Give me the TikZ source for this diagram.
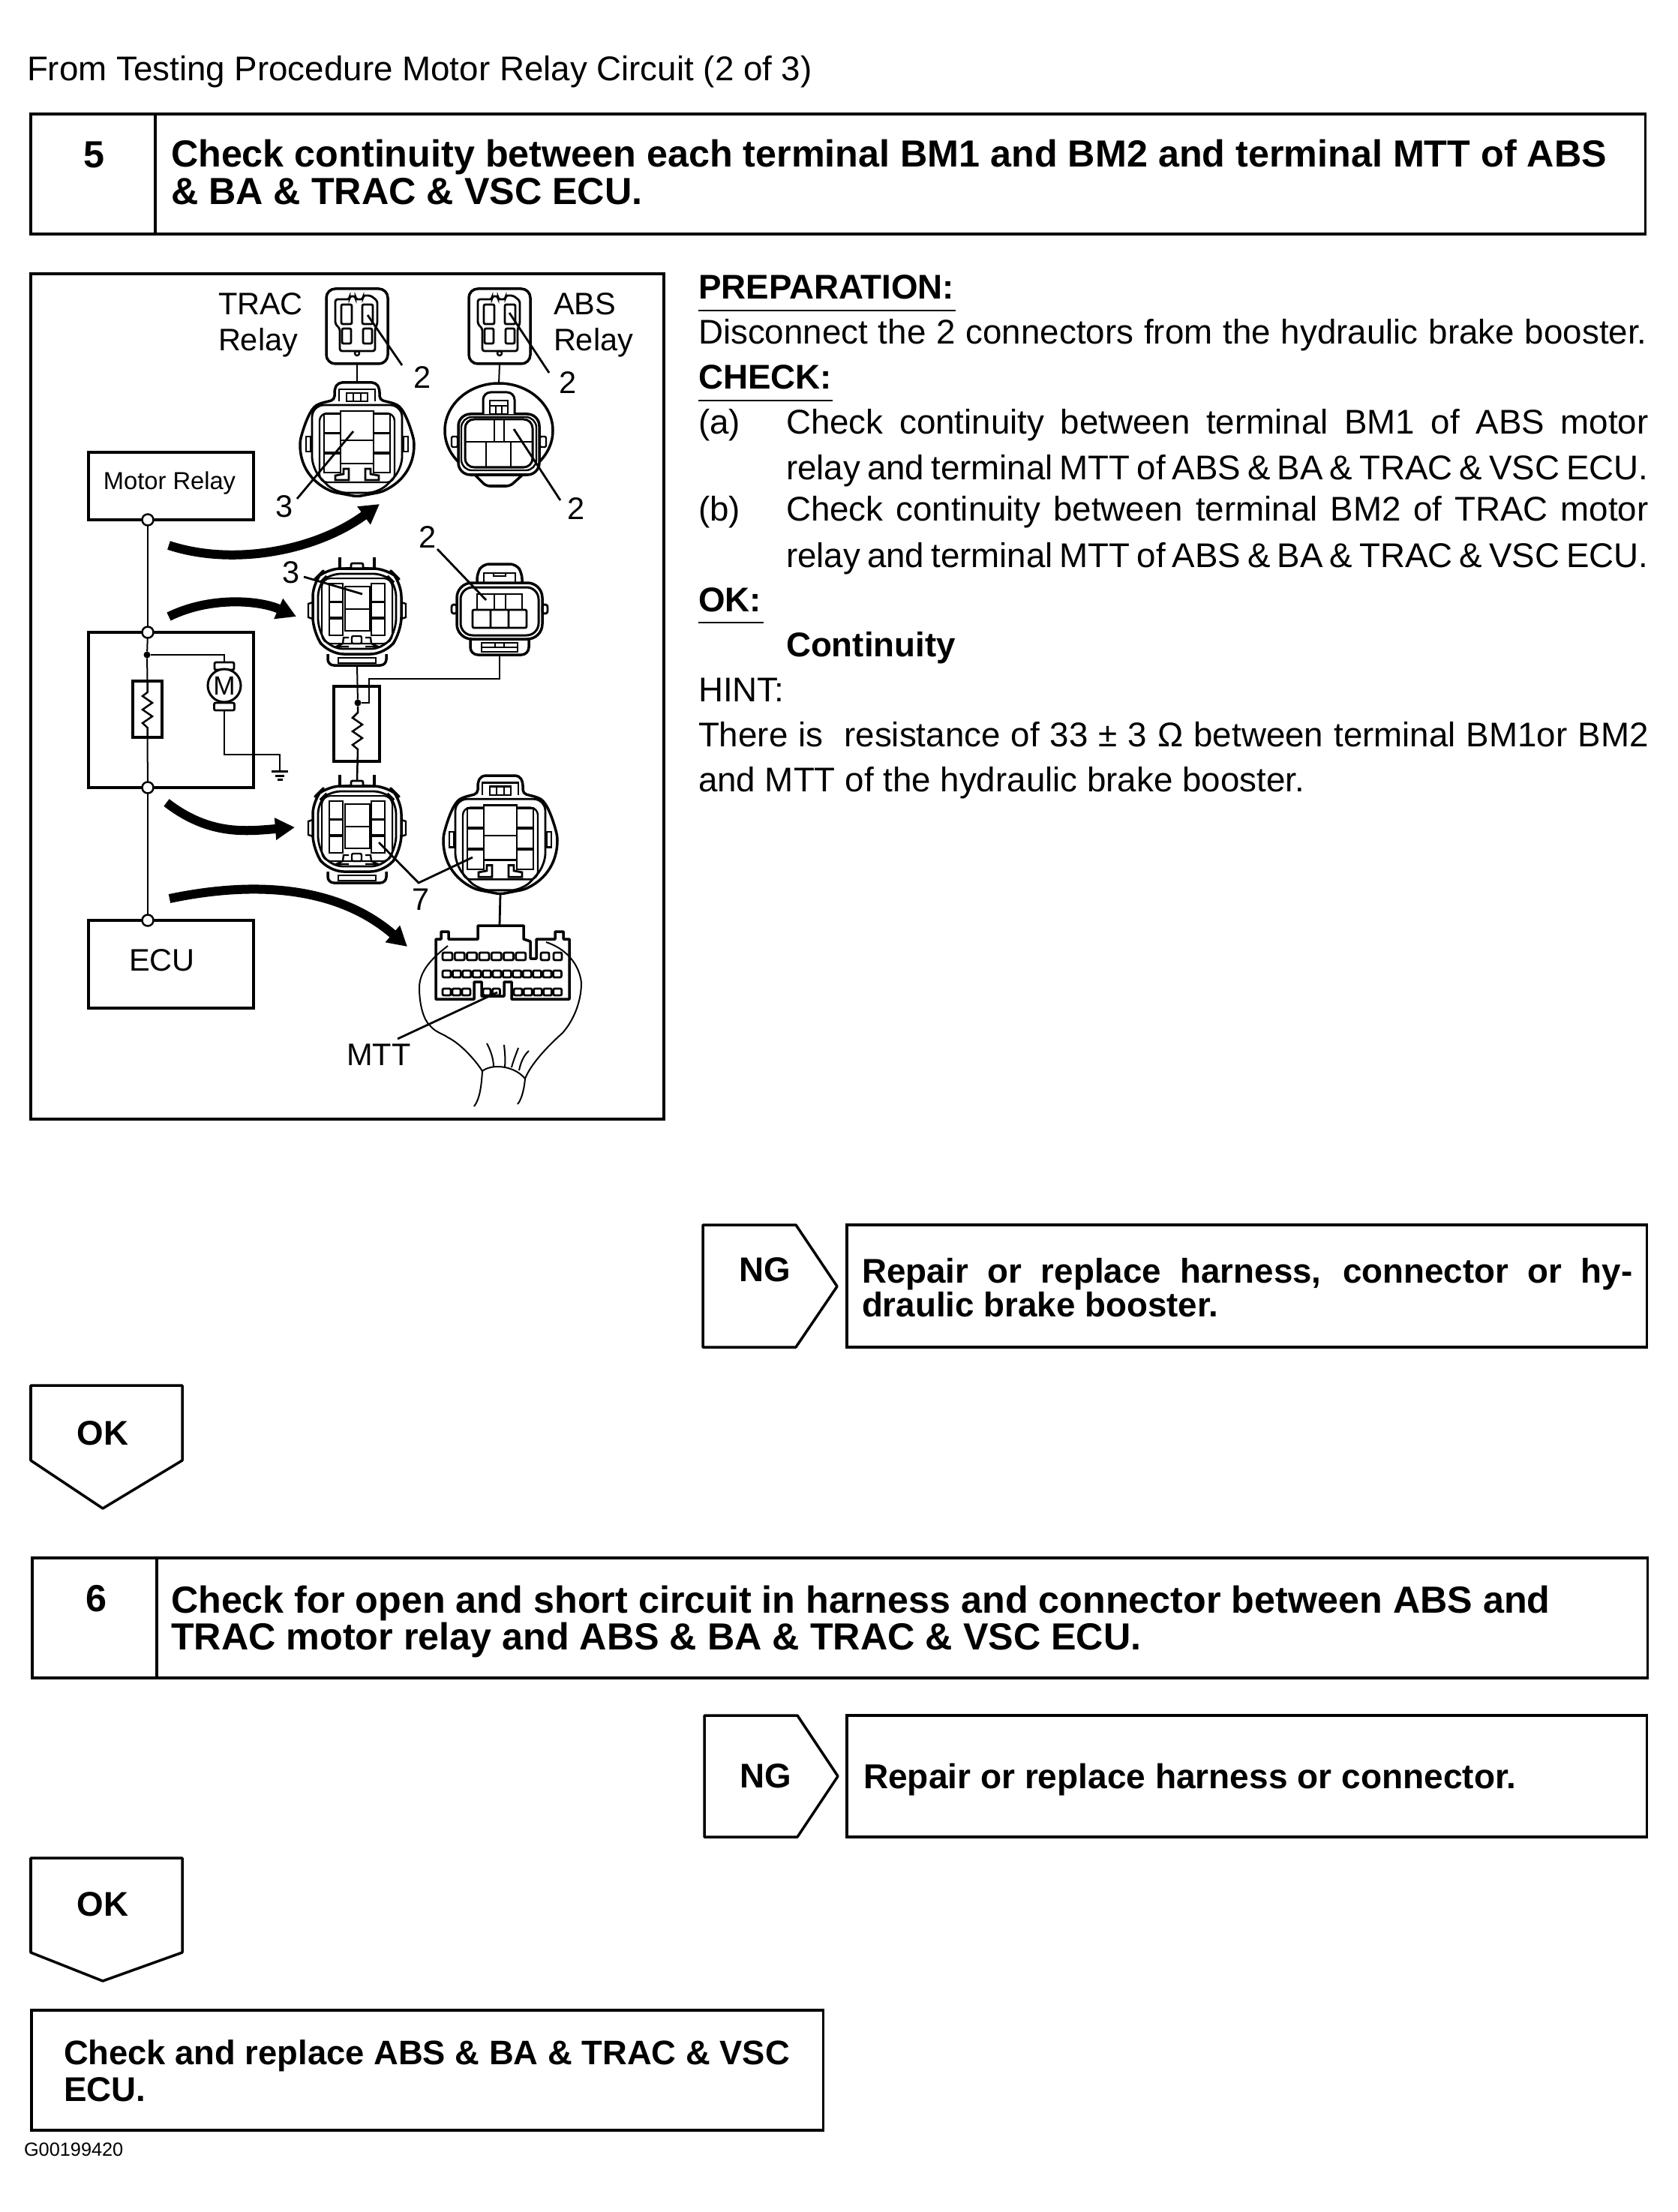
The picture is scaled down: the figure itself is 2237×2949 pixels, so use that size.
\documentclass[tikz,border=0pt]{standalone}
\usepackage{fontspec}
\setmainfont{Liberation Sans}
\usepackage{tikz}
\usetikzlibrary{arrows.meta,positioning}
\newcommand{\bodyfont}{\fontsize{13}{15}\selectfont}
\newcommand{\headfont}{\fontsize{14.3}{16}\selectfont\bfseries}
\newcommand{\flowfont}{\fontsize{13}{15}\selectfont\bfseries}
\newcommand{\partfont}{\fontsize{11.8}{13}\selectfont}
\newcommand{\spread}[2]{\makebox[#1][s]{\spaceskip=0.278em plus 1em minus 0.25em #2}}

\begin{document}
\begin{tikzpicture}[
  x=0.01cm, y=-0.01cm,
  every node/.style={inner sep=0pt, outer sep=0pt},
  frameline/.style={draw=black, line width=0.035cm},
  flowbox/.style={frameline, anchor=north west},
  body/.style={anchor=base west, font=\bodyfont},
  head/.style={anchor=base west, font=\headfont},
  flowtext/.style={anchor=base west, font=\flowfont},
  under/.style={line width=0.025cm},
  wire/.style={line width=0.02cm},
  leader/.style={line width=0.028cm},
  cell/.style={line width=0.024cm},
  shell/.style={line width=0.035cm, line join=round},
  junction/.style={circle, draw, fill=white, line width=0.025cm, minimum size=0.15cm},
  circbox/.style={frameline},
  resbox/.style={draw, line width=0.035cm},
  partno/.style={font=\partfont},
  bigarrow/.style={-{Triangle[length=0.26cm,width=0.28cm]}, line width=0.12cm},
  relayplug/.pic={
    \draw[shell, rounded corners=0.12cm] (-41,0) rectangle (41,100);
    \draw[cell, line width=0.028cm, rounded corners=0.03cm]
      (-29,14) -- (-10,14) -- (-10,10) -- (-2,10) -- (-2,14) -- (8,14) -- (8,9) -- (18,9) -- (27,16)
      -- (27,47) -- (24,53) -- (24,83) -- (-23,83) -- (-23,53) -- (-29,47) -- cycle;
    \foreach \cellx in {-21,7}{
      \draw[cell, line width=0.028cm, rounded corners=0.02cm] (\cellx,21) rectangle ++(14,26);
      \draw[cell, line width=0.028cm, rounded corners=0.02cm] (\cellx+1,53) rectangle ++(12,20);
    }
    \draw[cell] (0,86) circle (3);
    \coordinate (-bot) at (0,100);
  },
  fembig/.pic={
    \draw[shell, rounded corners=0.05cm]
      (-30,8) -- (-25,0) -- (25,0) -- (30,8) -- (30,23) -- (50,28)
      .. controls (62,35) and (70,55) .. (76,78)
      .. controls (76,110) and (62,132) .. (32,146) -- (0,152) -- (-32,146)
      .. controls (-62,132) and (-76,110) .. (-76,78)
      .. controls (-70,55) and (-62,35) .. (-50,28) -- (-30,23) -- cycle;
    \draw[cell, line width=0.028cm, rounded corners=0.16cm]
      (-60,30) -- (60,30) -- (60,115) -- (30,147) -- (-30,147) -- (-60,115) -- cycle;
    \draw[cell, rounded corners=0.1cm] (-50,41) rectangle (50,133);
    \draw[cell] (-24,25) -- (-24,9) -- (24,9) -- (24,25) (-14,14) rectangle (14,25) (-5,14) -- (-5,25) (5,14) -- (5,25);
    \draw[cell, line width=0.028cm, fill=white] (-22,38) rectangle (22,108) (-22,77) -- (22,77);
    \foreach \sx in {-1,1}{
      \begin{scope}[xscale=\sx]
        \draw[cell, fill=white] (22,42) rectangle (44,67) (22,68) rectangle (44,93) (22,95) rectangle (44,120);
        \draw[cell, line width=0.028cm, fill=white] (11,115) -- (18,115) -- (18,122) -- (29,124) -- (29,130) -- (11,130) -- cycle;
        \draw[cell] (62,72) rectangle (68,92);
      \end{scope}
    }
    \coordinate (-top) at (0,0);
    \coordinate (-bot) at (0,152);
  },
  femmid/.pic={
    \draw[shell] (-23,0) -- (-23,15) (23,0) -- (23,15);
    \draw[cell, line width=0.028cm, rounded corners=0.02cm] (-8,14) -- (-8,8) -- (8,8) -- (8,14);
    \draw[cell] (-23,15) -- (-8,14) (23,15) -- (8,14);
    \draw[shell, rounded corners=0.08cm]
      (-39,129) -- (-39,144) -- (39,144) -- (39,129);
    \draw[shell, rounded corners=0.2cm]
      (-42,15) -- (42,15) -- (59,32) -- (59,100) -- (38,129) -- (-38,129) -- (-59,100) -- (-59,32) -- cycle;
    \draw[cell, line width=0.028cm, rounded corners=0.16cm]
      (-38,22) -- (38,22) -- (52,36) -- (52,98) -- (35,122) -- (-35,122) -- (-52,98) -- (-52,36) -- cycle;
    \draw[cell, line width=0.02cm, rounded corners=0.12cm] (-47,28) rectangle (47,115);
    \draw[cell, line width=0.028cm, fill=white] (-16,39) rectangle (17,98) (-16,69) -- (17,69);
    \draw[cell, rounded corners=0.02cm, fill=white] (-7,105) rectangle (6,115);
    \draw[cell] (-25,134) rectangle (25,141) (-24,122) -- (24,122);
    \foreach \sx in {-1,1}{
      \begin{scope}[xscale=\sx]
        \draw[cell, line width=0.028cm, fill=white] (19,35) rectangle (37,59) (19,60) rectangle (37,80) (19,82) rectangle (37,104);
        \draw[cell] (11,107) -- (18,107) -- (19,115) -- (28,119) -- (11,119);
        \draw[cell] (59,60) -- (65,62) -- (65,80) -- (59,82);
      \end{scope}
    }
    \coordinate (-top) at (0,8);
    \coordinate (-bot) at (0,144);
  },
  absbig/.pic={
    \draw[shell] (0,62) ellipse (72 and 63);
    \draw[shell, fill=white, rounded corners=0.05cm] (-35,118) -- (-17,136) -- (15,136) -- (35,118);
    \draw[shell, fill=white, rounded corners=0.16cm] (-54,40) rectangle (54,121);
    \draw[cell, rounded corners=0.14cm] (-50,44) rectangle (50,115);
    \draw[cell, line width=0.03cm, rounded corners=0.12cm] (-45,47) rectangle (45,111);
    \draw[cell, line width=0.03cm, fill=white, rounded corners=0.1cm] (-21,40) -- (-21,11) -- (21,11) -- (21,40);
    \draw[cell] (-12,22) rectangle (12,40) (-4,29) -- (-4,40) (4,29) -- (4,40) (-12,29) -- (12,29);
    \draw[cell, line width=0.028cm] (-45,77) -- (45,77) (-6,47) -- (-6,77) (7,47) -- (7,77) (-17,77) -- (-17,111) (16,77) -- (16,111);
    \foreach \sx in {-1,1}{
      \draw[cell, xscale=\sx, rounded corners=0.015cm] (55,70) rectangle (63,84);
    }
    \coordinate (-top) at (0,0);
  },
  absmid/.pic={
    \draw[shell, rounded corners=0.08cm] (-30,25) -- (-30,12) -- (-22,0) -- (22,0) -- (30,12) -- (30,25);
    \draw[cell] (-21,25) -- (-21,12) -- (21,12) -- (21,25) (-8,12) -- (-8,16) -- (8,16) -- (8,12);
    \draw[shell, rounded corners=0.1cm] (-39,100) -- (-39,121) -- (39,121) -- (39,100);
    \draw[cell] (-24,105) rectangle (24,117) (-24,111) -- (24,111) (-6,105) -- (-6,111) (6,105) -- (6,111);
    \draw[shell, fill=white, rounded corners=0.2cm] (-57,25) rectangle (57,100);
    \draw[cell, line width=0.03cm, rounded corners=0.16cm] (-52,31) rectangle (52,95);
    \draw[cell] (-30,40) rectangle (30,61) (-7,40) -- (-7,61) (8,40) -- (8,61);
    \draw[cell, line width=0.028cm, rounded corners=0.02cm] (-36,61) rectangle (36,85) (-12,61) -- (-12,85) (12,61) -- (12,85);
    \foreach \sx in {-1,1}{
      \draw[cell, line width=0.028cm, xscale=\sx, rounded corners=0.03cm] (57,54) rectangle (64,66);
    }
    \coordinate (-bot) at (0,121);
  }
]
\useasboundingbox (0,0) rectangle (2237,2949);
\fill[white] (0,0) rectangle (2237,2949);

% Page title and step five.
\node[body] (title) at (36,108) {From Testing Procedure Motor Relay Circuit (2 of 3)};
\node[flowbox, minimum width=21.51cm, minimum height=1.6cm] (stepfive) at (41,152) {};
\draw[frameline] (207,152) -- (207,312);
\node[font=\headfont] (numfive) at (125,206) {5};
\node[head] (stepfivea) at (228,223) {Check continuity between each terminal BM1 and BM2 and terminal MTT of ABS};
\node[head] (stepfiveb) at (228,273) {\& BA \& TRAC \& VSC ECU.};

% Illustration frame and circuit sketch.
\node[flowbox, line width=0.04cm, minimum width=8.43cm, minimum height=11.26cm] (sketch) at (41,365) {};
\node[circbox, minimum width=2.2cm, minimum height=0.9cm] (motorrelay) at (228,648) {};
\node[font=\fontsize{9.3}{11}\selectfont] (motortext) at (226,644) {Motor Relay};
\node[frameline, minimum width=2.2cm, minimum height=2.07cm] (relaybody) at (228,946.5) {};
\node[circbox, minimum width=2.2cm, minimum height=1.17cm] (ecu) at (228,1285.5) {};
\node[partno] (ecutext) at (216,1280) {ECU};
\node[junction] (jrelay) at (197,693) {};
\node[junction] (jtop) at (197,843) {};
\node[junction] (jbot) at (197,1050) {};
\node[junction] (jecu) at (197,1227) {};
\node[circle, fill, minimum size=0.09cm] (dotl) at (196,873) {};
\node[resbox, minimum width=0.39cm, minimum height=0.75cm] (resl) at (196.5,945.5) {};
\draw[wire] (jrelay) -- (jtop);
\draw[wire] (jtop) -- (dotl);
\draw[wire] (dotl) -- (resl.north);
\draw[wire] (resl.south) -- (jbot);
\draw[wire] (jbot) -- (jecu);
\draw[line width=0.025cm] (196.5,908) -- (196.5,923) -- (190,928) -- (203,937) -- (190,946) -- (203,955) -- (190,964) -- (196.5,970) -- (196.5,983);

% Motor and earth.
\node[draw, line width=0.028cm, rounded corners=0.02cm, minimum width=0.26cm, minimum height=0.1cm] (capt) at (299,888) {};
\node[draw, line width=0.028cm, rounded corners=0.02cm, minimum width=0.27cm, minimum height=0.1cm] (capb) at (299,942) {};
\node[circle, draw, fill=white, line width=0.03cm, minimum size=0.44cm, font=\fontsize{10}{12}\selectfont] (motor) at (299,914) {M};
\coordinate (gnd) at (373,1028);
\coordinate (gndbend) at (373,1006);
\draw[wire] (dotl) -| (capt.north);
\draw[wire] (capb.south) |- (gndbend) -- (gnd);
\draw[line width=0.03cm] (gnd) ++(-11,0) -- ++(22,0) (gnd) ++(-6,6) -- ++(12,0) (gnd) ++(-3,11) -- ++(7,0);

% Relay plugs and connectors.
\node[partno, align=left, anchor=base west] (traclbl) at (291,420) {TRAC};
\node[partno, anchor=base west] (traclblb) at (291,468) {Relay};
\node[partno, anchor=base west] (abslbl) at (738,420) {ABS};
\node[partno, anchor=base west] (abslblb) at (738,468) {Relay};
\pic (plugtrac) at (476,385) {relayplug};
\pic (plugabs) at (666,385) {relayplug};
\pic (conna) at (476,510) {fembig};
\pic (connb) at (665,512) {absbig};
\pic (connc) at (476,743) {femmid};
\pic (connd) at (666,752) {absmid};
\pic (conne) at (476,1033) {femmid};
\pic[yscale=1.04] (connf) at (667,1034) {fembig};
\draw[wire] (plugtrac-bot) -- (conna-top);
\draw[wire] (plugabs-bot) -- (connb-top);

% Resistor between the middle connectors.
\node[resbox, minimum width=0.61cm, minimum height=1cm] (resr) at (475.5,965) {};
\node[circle, fill, minimum size=0.09cm] (dotr) at (477,937) {};
\coordinate (kneer) at (492,937);
\coordinate (bendr) at (492,905);
\draw[wire] (connc-bot) -- (dotr);
\draw[wire] (dotr) -- (kneer) -- (bendr) -| (connd-bot);
\draw[line width=0.025cm] (dotr) -- (477,950) -- (470,957) -- (483,966) -- (470,975) -- (483,984) -- (470,993) -- (477,999) -- (conne-top);
\coordinate (ecutop) at (666,1234);
\draw[wire, line width=0.028cm] (connf-bot) -- (ecutop);

% ECU connector and harness.
\draw[shell]
  (581,1332) -- (581,1252) -- (588,1252) -- (588,1242) -- (598,1242) -- (598,1252) -- (637,1252)
  -- (637,1234) -- (698,1234) -- (698,1252) -- (707,1255) -- (707,1278) -- (715,1278) -- (715,1252)
  -- (740,1252) -- (740,1242) -- (751,1242) -- (751,1252) -- (759,1252) -- (759,1332) -- (682,1332)
  -- (682,1309) -- (672,1309) -- (672,1328) -- (642,1328) -- (642,1309) -- (632,1309) -- (632,1332) -- cycle;
\foreach \cellx in {0,...,6}{
  \draw[cell, line width=0.028cm, rounded corners=0.02cm] (590+16.3*\cellx,1270) rectangle ++(13,10);
}
\foreach \cellx in {0,1}{
  \draw[cell, line width=0.028cm, rounded corners=0.02cm] (721+17*\cellx,1270) rectangle ++(11,10);
}
\foreach \cellx in {0,...,11}{
  \draw[cell, line width=0.028cm, rounded corners=0.02cm] (590+13.4*\cellx,1294) rectangle ++(11,9);
}
\foreach \cellx in {0,1,2}{
  \draw[cell, line width=0.028cm, rounded corners=0.02cm] (590+13*\cellx,1318) rectangle ++(11,9);
}
\foreach \cellx in {0,1}{
  \draw[cell, line width=0.028cm, rounded corners=0.02cm] (644+12.5*\cellx,1318) rectangle ++(10,9);
}
\foreach \cellx in {0,...,4}{
  \draw[cell, line width=0.028cm, rounded corners=0.02cm] (685+13.2*\cellx,1318) rectangle ++(11,9);
}
\draw[wire] (597,1261) .. controls (575,1278) and (559,1295) .. (559,1317)
  .. controls (559,1340) and (565,1360) .. (573,1367) .. controls (580,1376) and (590,1378) .. (597,1383)
  .. controls (615,1392) and (635,1415) .. (643,1428)
  .. controls (655,1418) and (685,1420) .. (700,1438)
  .. controls (708,1418) and (730,1395) .. (750,1377) .. controls (765,1360) and (775,1335) .. (775,1310)
  .. controls (772,1285) and (755,1265) .. (728,1256);
\draw[wire] (643,1428) .. controls (642,1445) and (640,1465) .. (632,1475);
\draw[wire] (700,1438) .. controls (699,1450) and (696,1465) .. (690,1472);
\draw[wire] (649,1391) .. controls (654,1400) and (658,1412) .. (658,1422);
\draw[wire] (672,1393) .. controls (673,1403) and (674,1412) .. (673,1422);
\draw[wire] (691,1397) .. controls (688,1405) and (684,1415) .. (682,1423);
\draw[wire] (705,1401) .. controls (698,1407) and (694,1417) .. (692,1427);

% Terminal call-outs.
\node[partno] (twoa) at (563,503) {2};
\node[partno] (twob) at (757,510) {2};
\node[partno] (threea) at (379,675) {3};
\node[partno] (twoc) at (768,678) {2};
\node[partno] (twod) at (570,716) {2};
\node[partno] (threeb) at (388,763) {3};
\node[partno] (seven) at (561,1199) {7};
\node[partno] (mtt) at (505,1406) {MTT};
\coordinate (pina) at (490,420);
\coordinate (pinb) at (679,417);
\coordinate (pinc) at (471,575);
\coordinate (pind) at (685,572);
\coordinate (pine) at (648,800);
\coordinate (pinf) at (483,792);
\coordinate (ping) at (505,1123);
\coordinate (pinh) at (630,1143);
\coordinate (pinmtt) at (663,1323);
\draw[leader] (pina) -- (536,487);
\draw[leader] (pinb) -- (732,497);
\draw[leader] (pinc) -- (396,665);
\draw[leader] (pind) -- (747,667);
\draw[leader] (pine) -- (583,732);
\draw[leader] (pinf) -- (405,769);
\draw[leader] (ping) -- (558,1177) -- (pinh);
\draw[leader] (pinmtt) -- (530,1385);

% Thick arrows from the circuit to the connectors.
\coordinate (arra) at (225,727);
\coordinate (arrb) at (506,672);
\coordinate (arrc) at (225,822);
\coordinate (arrd) at (395,822);
\coordinate (arre) at (222,1070);
\coordinate (arrf) at (393,1103);
\coordinate (arrg) at (226,1198);
\coordinate (arrh) at (543,1262);
\draw[bigarrow] (arra) .. controls (310,755) and (420,735) .. (arrb);
\draw[bigarrow] (arrc) .. controls (280,795) and (345,800) .. (arrd);
\draw[bigarrow] (arre) .. controls (280,1115) and (330,1108) .. (arrf);
\draw[bigarrow] (arrg) .. controls (360,1170) and (460,1190) .. (arrh);

% Right column.
\node[flowtext] (prep) at (931,398.5) {PREPARATION:};
\draw[under] (931,414) -- (1274,414);
\node[body] (prepa) at (931,458.5) {\spread{12.64cm}{Disconnect the 2 connectors from the hydraulic brake booster.}};
\node[flowtext] (check) at (931,518.5) {CHECK:};
\draw[under] (931,534) -- (1110,534);
\node[body] (cka) at (931,578.5) {(a)};
\node[body] (ckaa) at (1048,578.5) {\spread{11.49cm}{Check continuity between terminal BM1 of ABS motor}};
\node[body] (ckab) at (1048,639.5) {\spread{11.49cm}{relay and terminal MTT of ABS \& BA \& TRAC \& VSC ECU.}};
\node[body] (ckb) at (931,695) {(b)};
\node[body] (ckba) at (1048,695) {\spread{11.49cm}{Check continuity between terminal BM2 of TRAC motor}};
\node[body] (ckbb) at (1048,756) {\spread{11.49cm}{relay and terminal MTT of ABS \& BA \& TRAC \& VSC ECU.}};
\node[flowtext] (okword) at (931,815.5) {OK:};
\draw[under] (931,830) -- (1018,830);
\node[flowtext] (contin) at (1048,875.5) {Continuity};
\node[body] (hint) at (931,935) {HINT:};
\node[body] (hinta) at (931,995.5) {\spread{12.66cm}{There is\ \ resistance of 33 ± 3 Ω between terminal BM1or BM2}};
\node[body] (hintb) at (931,1055.5) {and MTT of the hydraulic brake booster.};

% First NG branch and OK tag.
\draw[frameline, line join=round] (937,1633) -- (1061,1633) -- (1116,1715) -- (1061,1796) -- (937,1796) -- cycle;
\node[font=\flowfont] (ngone) at (1020,1693) {NG};
\node[flowbox, minimum width=10.66cm, minimum height=1.63cm] (repairone) at (1129,1633) {};
\node[flowtext] (repaironea) at (1149,1710) {\spread{10.27cm}{Repair or replace harness, connector or hy-}};
\node[flowtext] (repaironeb) at (1149,1755) {draulic brake booster.};
\draw[frameline, line join=round] (41,1847) -- (243,1847) -- (243,1947) -- (137,2011) -- (41,1947) -- cycle;
\node[font=\flowfont] (okone) at (137,1911) {OK};

% Step six.
\node[flowbox, minimum width=21.52cm, minimum height=1.6cm] (stepsix) at (43,2077) {};
\draw[frameline] (209,2077) -- (209,2237);
\node[font=\headfont] (numsix) at (128,2131) {6};
\node[head] (stepsixa) at (228,2150) {Check for open and short circuit in harness and connector between ABS and};
\node[head] (stepsixb) at (228,2199) {TRAC motor relay and ABS \& BA \& TRAC \& VSC ECU.};

% Second NG branch, OK tag and last box.
\draw[frameline, line join=round] (939,2287) -- (1063,2287) -- (1117,2368) -- (1063,2449) -- (939,2449) -- cycle;
\node[font=\flowfont] (ngtwo) at (1021,2368) {NG};
\node[flowbox, minimum width=10.66cm, minimum height=1.62cm] (repairtwo) at (1129,2287) {};
\node[flowtext, font=\fontsize{13.1}{15}\selectfont\bfseries] (repairtwoa) at (1151,2384) {Repair or replace harness or connector.};
\draw[frameline, line join=round] (41,2477) -- (243,2477) -- (243,2603) -- (137,2641) -- (41,2603) -- cycle;
\node[font=\flowfont] (oktwo) at (137,2539) {OK};
\node[flowbox, minimum width=10.55cm, minimum height=1.6cm] (lastbox) at (42,2680) {};
\node[flowtext, font=\fontsize{12.9}{15}\selectfont\bfseries] (lasta) at (85,2752) {Check and replace ABS \& BA \& TRAC \& VSC};
\node[flowtext] (lastb) at (85,2801) {ECU.};
\node[anchor=base west, font=\fontsize{7.2}{9}\selectfont] (code) at (32,2874) {G00199420};
\end{tikzpicture}
\end{document}
